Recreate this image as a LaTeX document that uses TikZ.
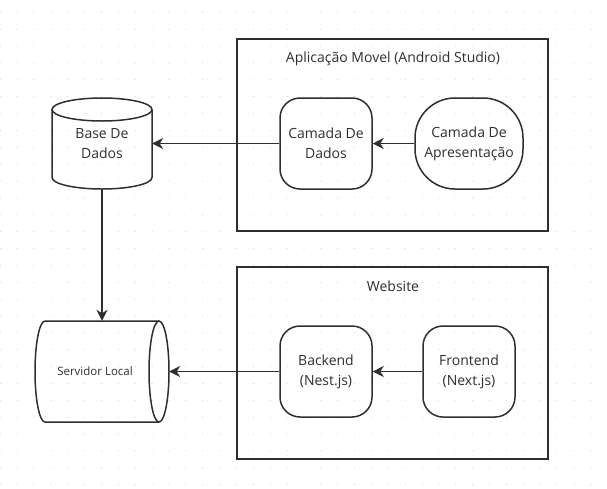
\documentclass[tikz,border=0pt]{standalone}
\usepackage{fontspec}
\setmainfont{Open Sans}
\usetikzlibrary{positioning, arrows.meta}
\definecolor{inkgray}{HTML}{2E2E2E}
\definecolor{dotgray}{HTML}{D2D2D2}

\begin{document}
\begin{tikzpicture}[x=1pt, y=-1pt,
	every node/.style={font=\fontsize{14}{20}\selectfont, text=inkgray},
	frame/.style={draw=inkgray, line width=1.6pt, minimum width=311pt, minimum height=192pt},
	layer/.style={draw=inkgray, line width=1.5pt, rounded corners=20pt, minimum width=92pt, minimum height=91pt, align=center},
	outline/.style={draw=inkgray, line width=1.5pt},
	flow/.style={-{Stealth[length=11pt, width=11pt, inset=3.5pt]}, draw=inkgray, line width=1.4pt}]
	\useasboundingbox (0,0) rectangle (607,488);
	% dotted background
	\foreach \i in {0,...,35}
		\foreach \j in {0,...,28}
			\fill[dotgray] (0.3+16.87*\i, 12.3+16.87*\j) circle (0.6pt);
	% mobile app
	\node[frame] at (392.5,135) (app) {};
	\node at (393,59) (apptitle) {Aplicação Movel (Android Studio)};
	\node[layer] at (326,143.5) (dados) {Camada De\\Dados};
	\node[layer, rounded corners=40pt, minimum width=108pt] at (469,143.5) (apres) {Camada De\\Apresentação};
	% website
	\node[frame] at (392.5,363) (web) {};
	\node at (393,286) (webtitle) {Website};
	\node[layer] at (326,371.5) (back) {Backend\\(Nest.js)};
	\node[layer] at (469,371.5) (front) {Frontend\\(Next.js)};
	% storage
	\node[minimum width=100pt, minimum height=91pt, align=center] at (102,143.5) (base) {Base De\\Dados};
	\begin{scope}[shift={(base.center)}]
		\draw[outline] (0,-34) ellipse [x radius=50, y radius=11.5];
		\draw[outline] (-50,-34) -- (-50,34) arc[start angle=180, end angle=0, x radius=50, y radius=11.5] -- (50,-34);
	\end{scope}
	\node[minimum width=134pt, minimum height=101pt] at (102,371.5) (serv) {};
	\node[font=\fontsize{11.5}{14}\selectfont] at ([xshift=-7pt]serv.center) (servlabel) {Servidor Local};
	\begin{scope}[shift={(serv.center)}]
		\draw[outline] (57,0) ellipse [x radius=10, y radius=50.5];
		\draw[outline] (57,-50.5) -- (-57,-50.5) arc[start angle=90, end angle=270, x radius=10, y radius=-50.5] -- (57,50.5);
	\end{scope}
	% arrows
	\draw[flow] (apres) -- (dados);
	\draw[flow] (dados) -- (base);
	\draw[flow] (base) -- (serv);
	\draw[flow] (front) -- (back);
	\draw[flow] (back) -- (serv);
\end{tikzpicture}
\end{document}
